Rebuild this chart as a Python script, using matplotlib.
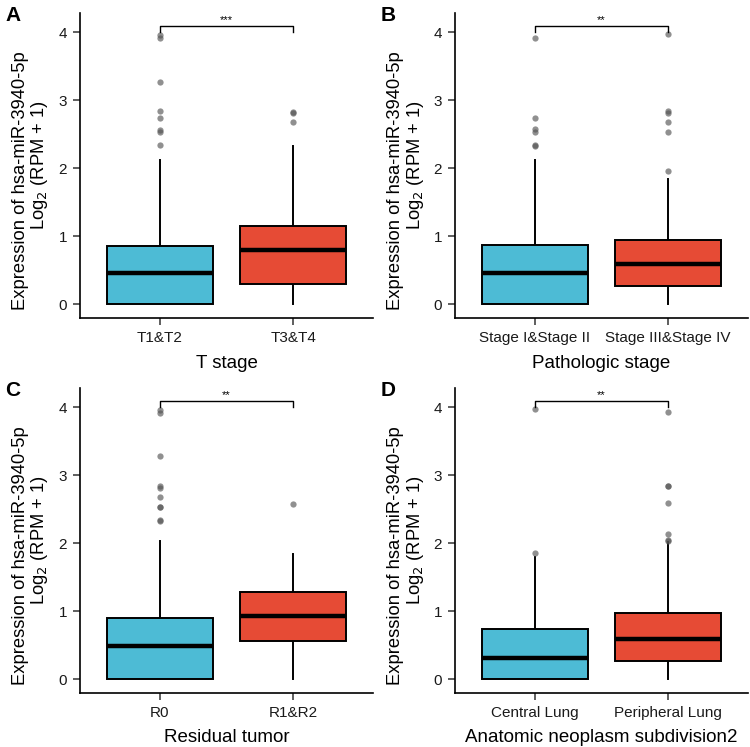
import matplotlib
matplotlib.use("Agg")
import matplotlib.pyplot as plt

plt.rcParams['font.family'] = ['Liberation Sans', 'DejaVu Sans']

panel_letters = ["A", "B", "C", "D"]
xtitles = ["T stage", "Pathologic stage", "Residual tumor", "Anatomic neoplasm subdivision2"]
groups = [["T1&T2", "T3&T4"],
          ["Stage I&Stage II", "Stage III&Stage IV"],
          ["R0", "R1&R2"],
          ["Central Lung", "Peripheral Lung"]]
signif = ["***", "**", "**", "**"]
ylabel_line1 = "Expression of hsa-miR-3940-5p"
ylabel_line2 = "Log$_2$ (RPM + 1)"

# box stats per panel: [group1, group2] -> (whislo, q1, med, q3, whishi)
box_stats = [
    [(0.0, 0.0, 0.456, 0.865, 2.13), (0.0, 0.30, 0.80, 1.15, 2.33)],
    [(0.0, 0.0, 0.456, 0.88, 2.13), (0.0, 0.275, 0.60, 0.95, 1.85)],
    [(0.0, 0.0, 0.49, 0.90, 2.04), (0.0, 0.56, 0.93, 1.28, 1.84)],
    [(0.0, 0.0, 0.31, 0.735, 1.80), (0.0, 0.27, 0.59, 0.97, 2.02)],
]
outliers = [
    [[2.34, 2.53, 2.56, 2.745, 2.85, 3.27, 3.92, 3.96], [2.68, 2.81, 2.83]],
    [[2.33, 2.34, 2.53, 2.58, 2.74, 3.92], [1.96, 2.54, 2.68, 2.82, 2.85, 3.98]],
    [[2.33, 2.34, 2.53, 2.54, 2.68, 2.81, 2.85, 3.28, 3.92, 3.96], [2.58]],
    [[1.86, 3.98], [2.03, 2.05, 2.14, 2.59, 2.84, 2.85, 3.93]],
]

colors = ["#4DBBD5", "#E64B35"]

W, H = 750, 747
fig = plt.figure(figsize=(W / 100, H / 100), dpi=100)

# panel offsets in pixels
offsets = [(0, 0), (375, 0), (0, 375), (375, 375)]

for i in range(4):
    ox, oy = offsets[i]
    l, t, r, b = 80 + ox, 12.7 + oy, 373 + ox, 318 + oy
    ax = fig.add_axes([l / W, 1 - b / H, (r - l) / W, (b - t) / H])
    stats = []
    for j in range(2):
        wl, q1, med, q3, wh = box_stats[i][j]
        stats.append(dict(whislo=wl, q1=q1, med=med, q3=q3, whishi=wh,
                          fliers=outliers[i][j], label=groups[i][j]))
    bp = ax.bxp(stats, positions=[1, 2], widths=0.8, patch_artist=True,
                showcaps=False,
                boxprops=dict(linewidth=1.4, edgecolor="black"),
                medianprops=dict(color="black", linewidth=3.2, solid_capstyle="butt"),
                whiskerprops=dict(color="black", linewidth=1.4),
                flierprops=dict(marker="o", markersize=4.5, markerfacecolor="#555555",
                                markeredgecolor="none", alpha=0.65))
    for patch, c in zip(bp["boxes"], colors):
        patch.set_facecolor(c)
    for w in bp["whiskers"]:
        w.set_zorder(1)

    ax.set_xlim(0.4, 2.6)
    ax.set_ylim(-0.2, 4.29)
    ax.set_yticks([0, 1, 2, 3, 4])
    ax.set_xticks([1, 2])
    ax.set_xticklabels(groups[i])
    for s in ["top", "right"]:
        ax.spines[s].set_visible(False)
    for s in ["left", "bottom"]:
        ax.spines[s].set_linewidth(1.2)
    ax.tick_params(axis="both", labelsize=11, length=5, width=1.1,
                   color="#333333", labelcolor="#1a1a1a")
    ax.tick_params(axis="y", pad=4.3)
    ax.tick_params(axis="x", pad=4.3)

    # axis titles
    fig.text((l + r) / 2 / W, 1 - (367.5 + oy) / H, xtitles[i], fontsize=13.5,
             ha="center", va="baseline")
    fig.text((25.5 + ox) / W, 1 - (181 + oy) / H, ylabel_line1, fontsize=13.2,
             rotation=90, rotation_mode="anchor", ha="center", va="baseline")
    fig.text((44.5 + ox) / W, 1 - (165 + oy) / H, ylabel_line2, fontsize=13.2,
             rotation=90, rotation_mode="anchor", ha="center", va="baseline")

    # significance bracket
    ax.plot([1, 1, 2, 2], [4.0, 4.1, 4.1, 4.0], color="black", linewidth=1.0,
            clip_on=False)
    ax.text(1.5, 4.115, signif[i], ha="center", va="bottom", fontsize=8)

    fig.text((5.5 + ox) / W, 1 - (6 + oy) / H, panel_letters[i], fontsize=15,
             fontweight="bold", ha="left", va="top")

fig.savefig("out.png", dpi=100)
